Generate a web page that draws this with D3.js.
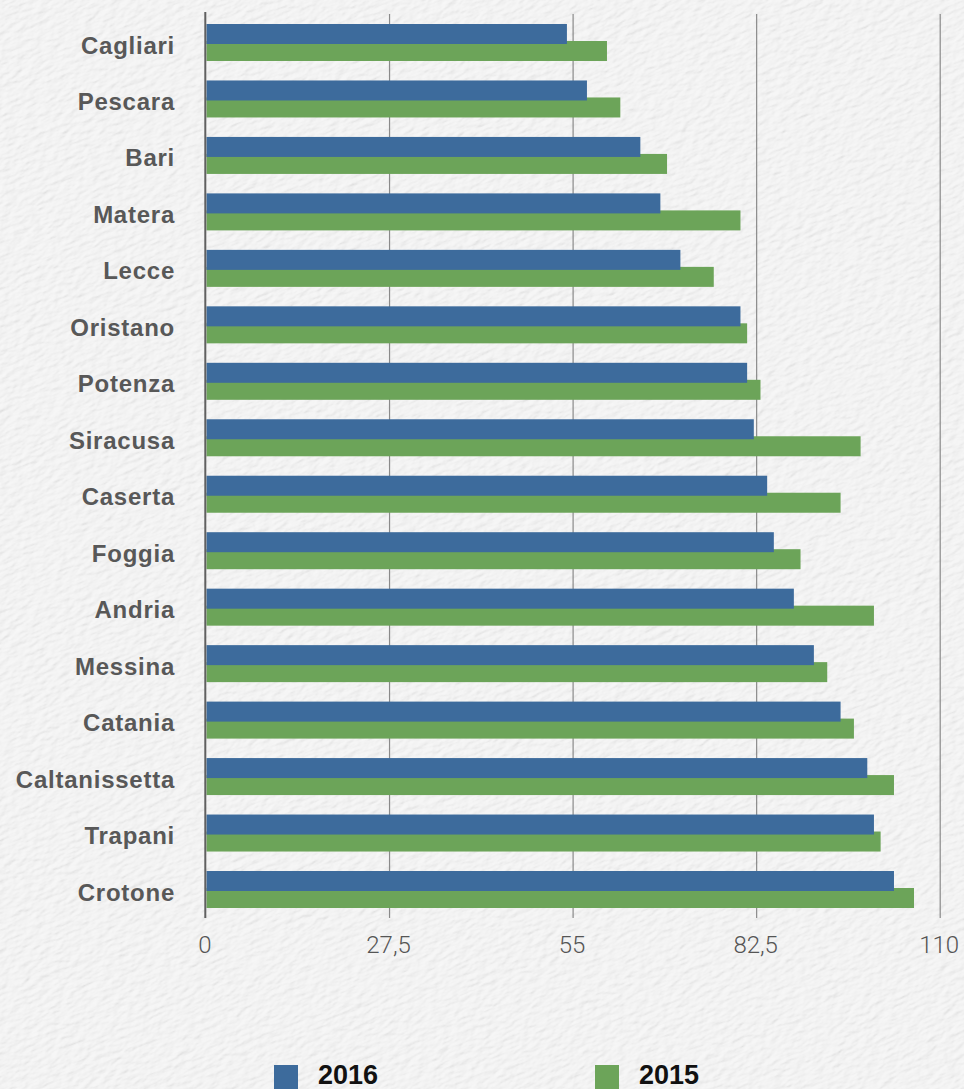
<!DOCTYPE html>
<html>
<head>
<meta charset="utf-8">
<script src="https://cdn.jsdelivr.net/npm/d3@7"></script>
<style>
  html, body { margin: 0; padding: 0; background: #f0f0f0; }
  svg { display: block; }
</style>
</head>
<body>
<svg id="chart" width="964" height="1089"></svg>
<script>
const categories = ["Cagliari","Pescara","Bari","Matera","Lecce","Oristano","Potenza","Siracusa","Caserta","Foggia","Andria","Messina","Catania","Caltanissetta","Trapani","Crotone"];
const values2016 = [54,57,65,68,71,80,81,82,84,85,88,91,95,99,100,103];
const values2015 = [60,62,69,80,76,81,83,98,95,89,100,93,97,103,101,106];
const tickValues = [0,27.5,55,82.5,110];
const tickLabels = ["0","27,5","55","82,5","110"];
const seriesNames = ["2016","2015"];
const seriesColors = ["#3d6b9c","#6ca459"];

const svg = d3.select("#chart");
const W = 964, H = 1089;

// paper background
const defs = svg.append("defs");
const f = defs.append("filter").attr("id","paper")
  .attr("filterUnits","userSpaceOnUse").attr("x",-400).attr("y",-400).attr("width",1800).attr("height",1900);
f.append("feTurbulence").attr("type","fractalNoise").attr("baseFrequency","0.09 0.22").attr("numOctaves",3).attr("seed",11).attr("result","noise");
const lit = f.append("feDiffuseLighting").attr("in","noise").attr("lighting-color","#f7f7f7").attr("surfaceScale",0.9).attr("diffuseConstant",1).attr("result","lit");
lit.append("feDistantLight").attr("azimuth",235).attr("elevation",74);
svg.append("rect").attr("width",W).attr("height",H).attr("fill","#f0f0f0");
svg.append("g").attr("transform","rotate(-22 482 544)")
  .append("rect").attr("x",-400).attr("y",-400).attr("width",1800).attr("height",1900)
  .attr("filter","url(#paper)");

const x = d3.scaleLinear().domain([0,110]).range([206.5,940.7]);
const y = d3.scalePoint().domain(categories).range([24,871]);

// gridlines
svg.append("g").selectAll("line").data(tickValues.slice(1)).join("line")
  .attr("x1", d => x(d) - 0.5).attr("x2", d => x(d) - 0.5)
  .attr("y1", 14).attr("y2", 918)
  .attr("stroke", "#8a8a8a").attr("stroke-width", 1.2);

// bars: green behind, blue on top
const rows = categories.map((c,i) => ({c, v16: values2016[i], v15: values2015[i]}));
svg.append("g").selectAll("rect").data(rows).join("rect")
  .attr("x", x(0)).attr("y", d => y(d.c) + 17)
  .attr("width", d => x(d.v15) - x(0)).attr("height", 20)
  .attr("fill", seriesColors[1]);
svg.append("g").selectAll("rect").data(rows).join("rect")
  .attr("x", x(0)).attr("y", d => y(d.c))
  .attr("width", d => x(d.v16) - x(0)).attr("height", 20)
  .attr("fill", seriesColors[0]);

// y axis line
svg.append("line").attr("x1",205.3).attr("x2",205.3).attr("y1",12).attr("y2",918)
  .attr("stroke","#606060").attr("stroke-width",2);

// category labels
svg.append("g").selectAll("text").data(categories).join("text")
  .attr("x", 175).attr("y", d => y(d) + 29.5)
  .attr("text-anchor","end")
  .attr("font-family","'Liberation Sans', Arial, sans-serif")
  .attr("font-weight","bold").attr("font-size","24px")
  .attr("letter-spacing","0.75px")
  .attr("fill","#585858")
  .text(d => d);

// x tick labels
svg.append("g").selectAll("text").data(tickValues).join("text")
  .attr("x", d => x(d) - 1.5).attr("y", 953)
  .attr("text-anchor","middle")
  .attr("font-family","Roboto, 'Liberation Sans', sans-serif")
  .attr("font-weight","300").attr("font-size","24px")
  .attr("fill","#555")
  .text((d,i) => tickLabels[i]);

// legend
const legX = [274, 595];
const lg = svg.append("g").selectAll("g").data(seriesNames).join("g");
lg.append("rect").attr("x",(d,i)=>legX[i]).attr("y",1065).attr("width",24).attr("height",24)
  .attr("fill",(d,i)=>seriesColors[i]);
lg.append("text").attr("x",(d,i)=>legX[i]+44).attr("y",1084)
  .attr("font-family","'Liberation Sans', Arial, sans-serif")
  .attr("font-weight","bold").attr("font-size","27px")
  .attr("fill","#111")
  .text(d=>d);
</script>
</body>
</html>
